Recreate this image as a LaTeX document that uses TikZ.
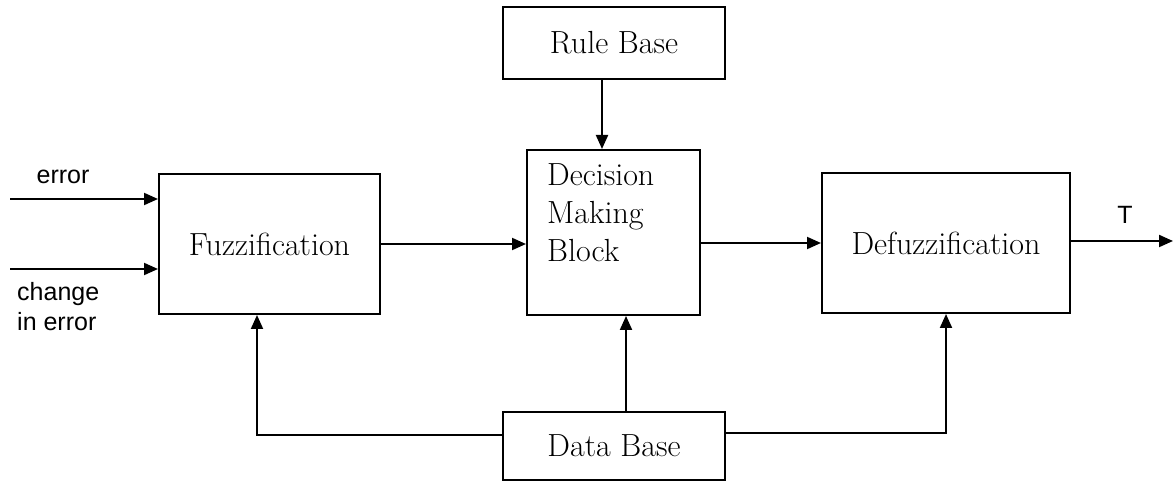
\documentclass[tikz,border=0pt]{standalone}
\usepackage{fontspec}
\newfontfamily\labelsans{Liberation Sans}
\usetikzlibrary{arrows.meta}
\tikzset{
  x=1pt, y=1pt,
  serif/.style={font=\fontsize{32}{38}\selectfont},
  blk/.style={draw, line width=2pt, minimum width=#1, inner sep=0pt, serif},
  arr/.style={line width=2pt, -{Triangle[length=14pt, width=12pt]}},
  lbl/.style={font=\labelsans\fontsize{25}{30}\selectfont, inner sep=0pt}
}
\begin{document}
\begin{tikzpicture}
\useasboundingbox (0,0) rectangle (1174,482);
% blocks
\node[blk=222pt, minimum height=72pt] (rule) at (614,439) {Rule Base};
\node[blk=173pt, minimum height=165pt] (dec) at (613.5,249.5) {};
\node[serif, align=left, anchor=north west, inner sep=0pt] (dectext) at (547,319) {Decision\\Making\\Block};
\node[blk=221pt, minimum height=140pt] (fuzz) at (269.5,238) {Fuzzification};
\node[blk=248pt, minimum height=140pt] (defuzz) at (946,239) {Defuzzification};
\node[blk=222pt, minimum height=68pt] (data) at (614,36) {Data Base};
% inputs / output
\coordinate (ein) at (10,283);
\coordinate (cin) at (10,213);
\coordinate (out) at (1173,241);
\node[lbl] (errlbl) at (63,305) {error};
\node[lbl, align=left, anchor=west] (chglbl) at (17,175) {change\\in error};
\node[lbl] (tlbl) at (1125,267) {T};
% connectors
\draw[arr] (ein) -- (ein -| fuzz.west);
\draw[arr] (cin) -- (cin -| fuzz.west);
\draw[arr] (fuzz.east) -- (fuzz.east -| dec.west);
\draw[arr] (dec.east |- defuzz.west) -- (defuzz.west);
\draw[arr] (defuzz.east |- out) -- (out);
\draw[arr] ([xshift=-12pt]rule.south) -- ([xshift=-12pt]rule.south |- dec.north);
\draw[arr] ([xshift=12pt]data.north) -- ([xshift=12pt]data.north |- dec.south);
\draw[arr] ([yshift=11pt]data.west) -| ([xshift=-12.5pt]fuzz.south);
\draw[arr] ([yshift=13pt]data.east) -| (defuzz.south);
\end{tikzpicture}
\end{document}
